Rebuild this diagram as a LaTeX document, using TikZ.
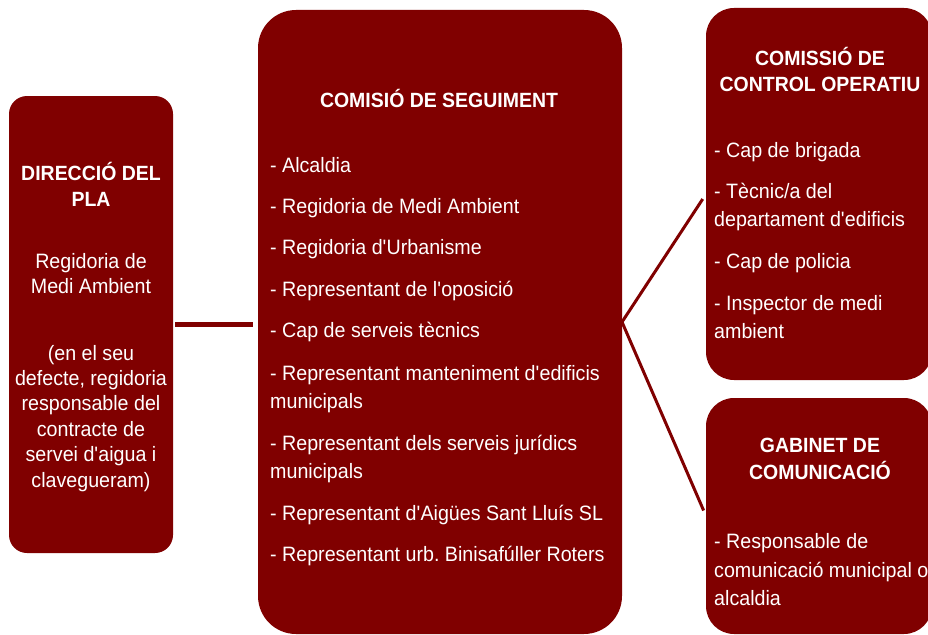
\documentclass[tikz,border=0pt]{standalone}
\usepackage{fontspec}
\setmainfont{Liberation Sans}[FakeStretch=0.945]
\definecolor{maroon}{RGB}{128,0,0}
\newcommand{\ap}{\textquotesingle}
\frenchspacing
\tikzset{
  x=1pt, y=-1pt,
  box/.style={fill=maroon, draw=none, inner sep=0pt, outer sep=0pt},
  txt/.style={text=white, inner sep=0pt, font=\fontsize{20.8}{24}\selectfont},
  hd/.style={txt, font=\fontsize{20.6}{24}\selectfont\bfseries},
  hline/.style={draw=maroon, line width=5pt},
  vline/.style={draw=maroon, line width=3pt}
}
\begin{document}
\begin{tikzpicture}
\useasboundingbox (0,0) rectangle (928,634);
% boxes
\node[box, minimum width=164pt, minimum height=457pt, rounded corners=18pt] (dir) at (91,324.5) {};
\node[box, minimum width=364pt, minimum height=624pt, rounded corners=38pt] (seg) at (440,322) {};
\node[box, minimum width=226pt, minimum height=372pt, rounded corners=28pt] (ctl) at (819,194) {};
\node[box, minimum width=226pt, minimum height=236pt, rounded corners=28pt] (gab) at (819,516) {};
% connectors
\draw[hline, shorten <=2pt, shorten >=5pt] (dir.east) -- (seg.west |- dir.east);
\draw[vline, shorten >=6pt] (seg.east) -- (ctl.west);
\draw[vline, shorten >=6pt] (seg.east) -- (gab.west);
% left box
\foreach \t/\yy [count=\i] in {{DIRECCIÓ DEL}/180, {PLA}/206}
  \node[hd, anchor=base] (dh\i) at (91,\yy) {\t};
\foreach \t/\yy [count=\i] in {{Regidoria de}/268, {Medi Ambient}/293, {(en el seu}/360, {defecte, regidoria}/385, {responsable del}/410.5, {contracte de}/436, {servei d\ap aigua i}/461.5, {clavegueram)}/487}
  \node[txt, anchor=base] (dt\i) at (91,\yy) {\t};
% middle box
\node[hd, anchor=base] (sh) at (439,107) {COMISIÓ DE SEGUIMENT};
\foreach \t/\yy [count=\i] in {{- Alcaldia}/172, {- Regidoria de Medi Ambient}/213, {- Regidoria d\ap Urbanisme}/254, {- Representant de l\ap oposició}/296, {- Cap de serveis tècnics}/337, {- Representant manteniment d\ap edificis}/380, {municipals}/408, {- Representant dels serveis jurídics}/450, {municipals}/478, {- Representant d\ap Aigües Sant Lluís SL}/520, {- Representant urb. Binisafúller Roters}/561}
  \node[txt, anchor=base west] (st\i) at (270,\yy) {\t};
% top right box
\foreach \t/\yy [count=\i] in {{COMISSIÓ DE}/65, {CONTROL OPERATIU}/91}
  \node[hd, anchor=base] (ch\i) at (820,\yy) {\t};
\foreach \t/\yy [count=\i] in {{- Cap de brigada}/157, {- Tècnic/a del}/198, {departament d\ap edificis}/226, {- Cap de policia}/268, {- Inspector de medi}/310, {ambient}/338}
  \node[txt, anchor=base west] (ct\i) at (714,\yy) {\t};
% bottom right box
\foreach \t/\yy [count=\i] in {{GABINET DE}/452, {COMUNICACIÓ}/479}
  \node[hd, anchor=base] (gh\i) at (820,\yy) {\t};
\foreach \t/\yy [count=\i] in {{- Responsable de}/548, {comunicació municipal o}/577, {alcaldia}/605}
  \node[txt, anchor=base west] (gt\i) at (714,\yy) {\t};
\end{tikzpicture}
\end{document}
